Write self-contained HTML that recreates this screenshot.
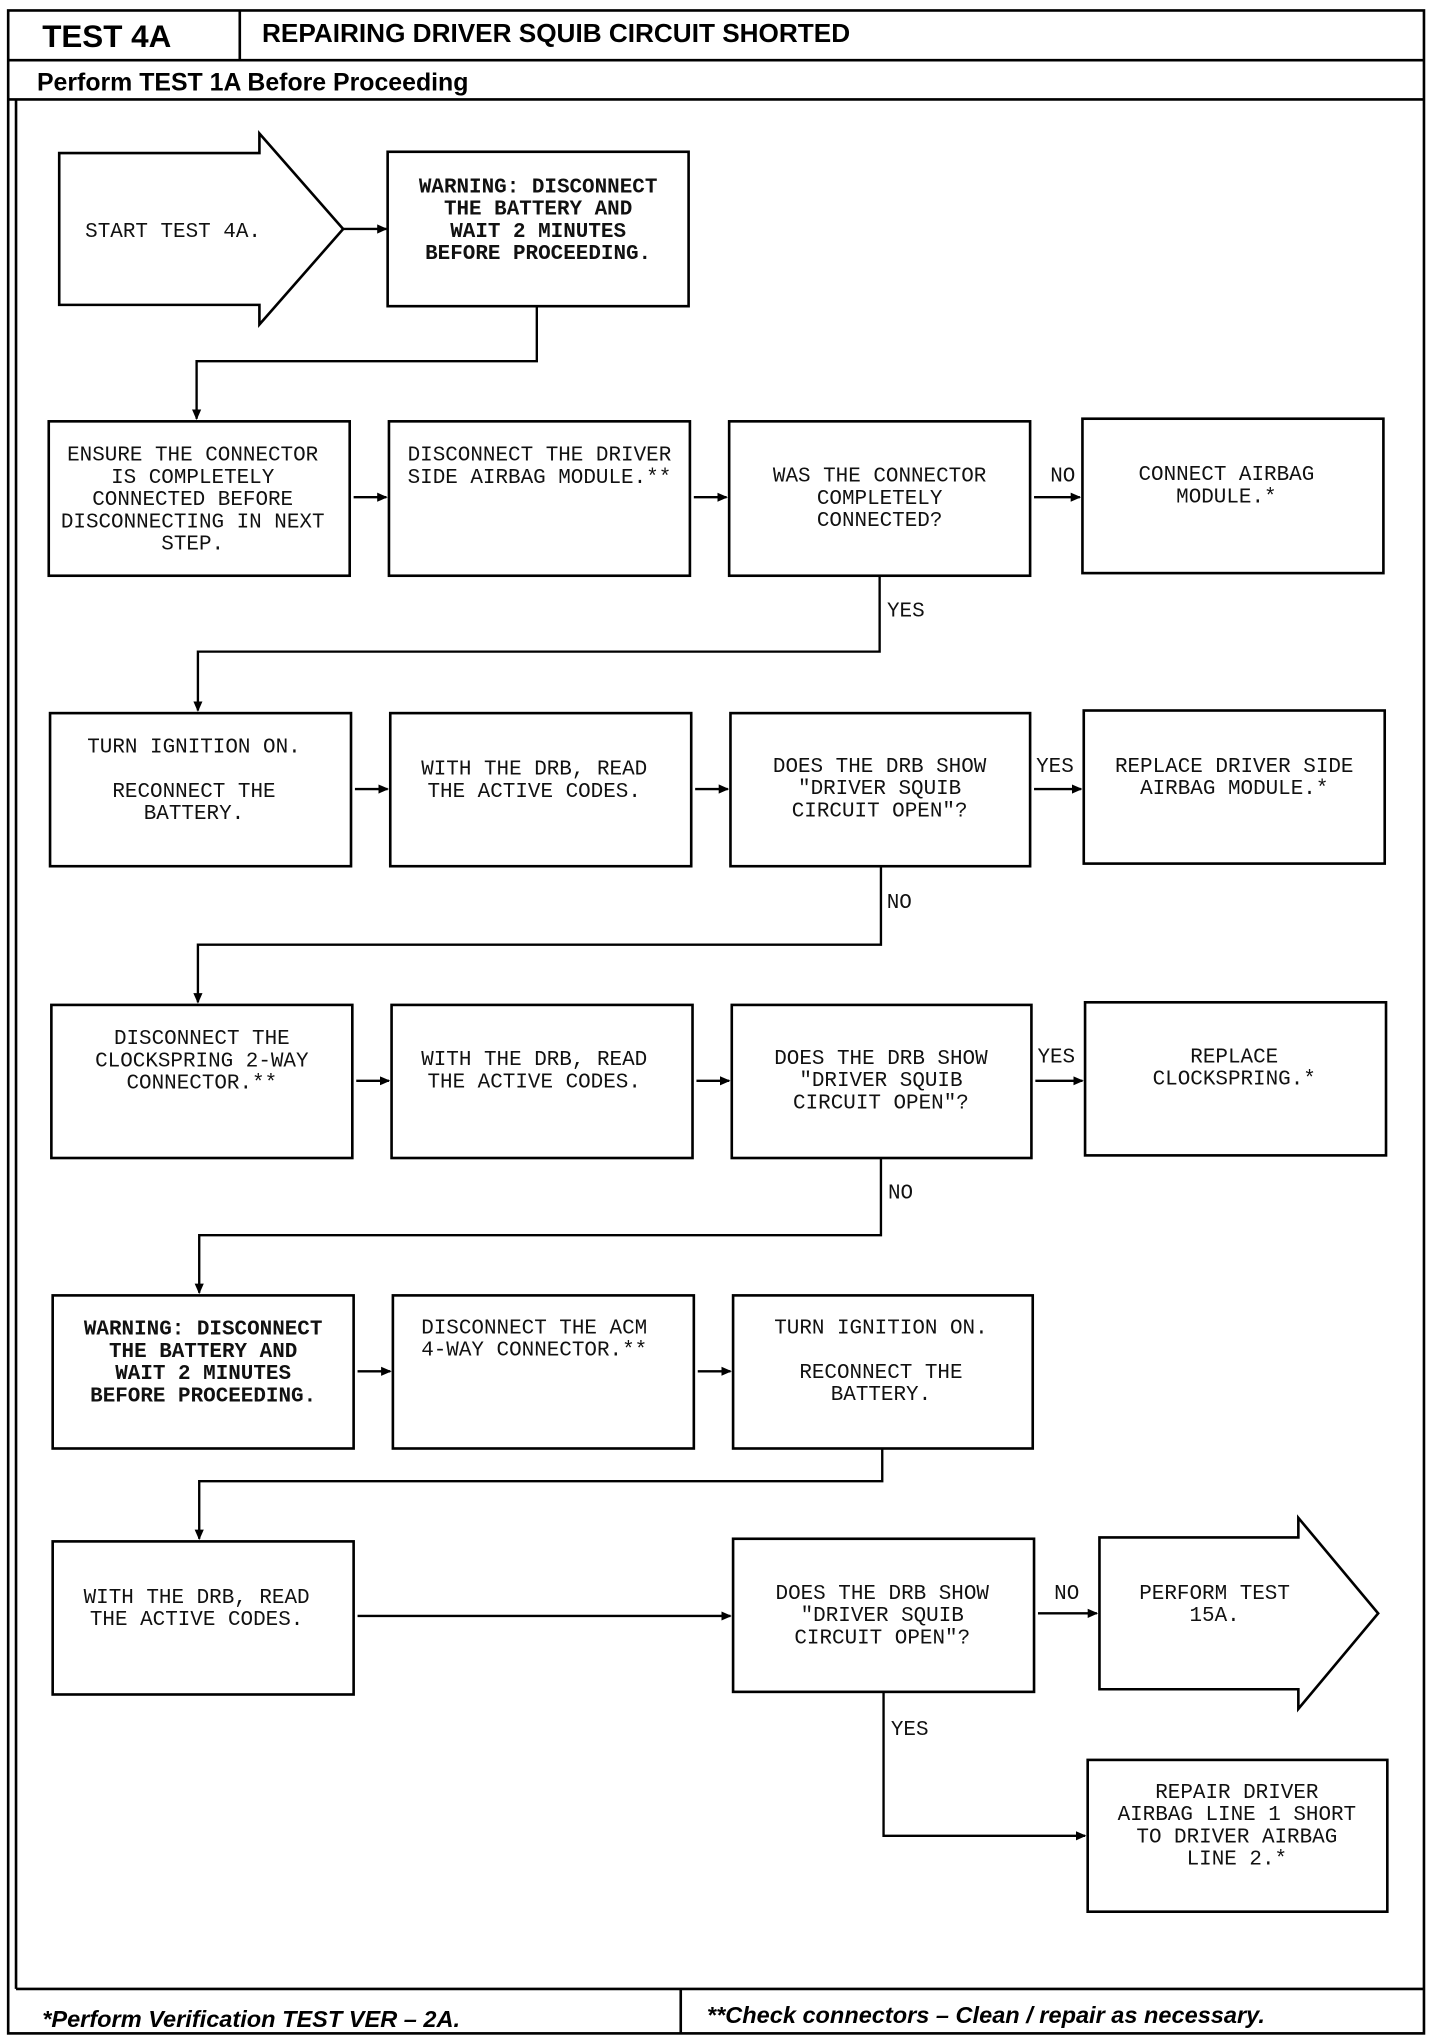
<!DOCTYPE html>
<html><head><meta charset="utf-8"><style>
html,body{margin:0;padding:0;background:#fff}
svg{display:block}
.t{font-family:"Liberation Mono",monospace;font-size:16px;fill:#111;text-anchor:middle}
.b{font-weight:bold}
.h{font-family:"Liberation Sans",sans-serif;font-weight:bold;fill:#000}
</style></head><body>
<svg width="1440" height="2036" viewBox="0 0 1100 1556" xmlns="http://www.w3.org/2000/svg">
<defs><marker id="a" markerWidth="8" markerHeight="8" refX="7" refY="4" orient="auto" markerUnits="userSpaceOnUse"><path d="M0,0.5 L8,4 L0,7.5 Z" fill="#000"/></marker></defs>
<g fill="none" stroke="#000" stroke-width="2">
<rect x="6" y="8" width="1082" height="1546"/>
<line x1="6" y1="46" x2="1088" y2="46"/>
<line x1="183" y1="8" x2="183" y2="46"/>
<line x1="6" y1="76" x2="1088" y2="76"/>
<line x1="12" y1="76" x2="12" y2="1520"/>
<line x1="12" y1="1520" x2="1088" y2="1520"/>
<line x1="520" y1="1520" x2="520" y2="1554"/>
<polygon points="45,117 198,117 198,102 262,175 198,248 198,233 45,233"/>
<rect x="296" y="116" width="230" height="118"/>
<rect x="37" y="322" width="230" height="118"/>
<rect x="297" y="322" width="230" height="118"/>
<rect x="557" y="322" width="230" height="118"/>
<rect x="827" y="320" width="230" height="118"/>
<rect x="38" y="545" width="230" height="117"/>
<rect x="298" y="545" width="230" height="117"/>
<rect x="558" y="545" width="229" height="117"/>
<rect x="828" y="543" width="230" height="117"/>
<rect x="39" y="768" width="230" height="117"/>
<rect x="299" y="768" width="230" height="117"/>
<rect x="559" y="768" width="229" height="117"/>
<rect x="829" y="766" width="230" height="117"/>
<rect x="40" y="990" width="230" height="117"/>
<rect x="300" y="990" width="230" height="117"/>
<rect x="560" y="990" width="229" height="117"/>
<rect x="40" y="1178" width="230" height="117"/>
<rect x="560" y="1176" width="230" height="117"/>
<polygon points="840,1175 992,1175 992,1160 1053,1233 992,1306 992,1291 840,1291"/>
<rect x="831" y="1345" width="229" height="116"/>
</g>
<g fill="none" stroke="#000" stroke-width="1.8" marker-end="url(#a)">
<line x1="262" y1="175" x2="295" y2="175"/>
<polyline points="410,234 410,276 150,276 150,320"/>
<line x1="270" y1="380" x2="295" y2="380"/>
<line x1="530" y1="380" x2="555" y2="380"/>
<line x1="790" y1="380" x2="825" y2="380"/>
<polyline points="672,440 672,498 151,498 151,543"/>
<line x1="271" y1="603" x2="296" y2="603"/>
<line x1="531" y1="603" x2="556" y2="603"/>
<line x1="790" y1="603" x2="826" y2="603"/>
<polyline points="673,662 673,722 151,722 151,766"/>
<line x1="272" y1="826" x2="297" y2="826"/>
<line x1="532" y1="826" x2="557" y2="826"/>
<line x1="791" y1="826" x2="827" y2="826"/>
<polyline points="673,885 673,944 152,944 152,988"/>
<line x1="273" y1="1048" x2="298" y2="1048"/>
<line x1="533" y1="1048" x2="558" y2="1048"/>
<polyline points="674,1107 674,1132 152,1132 152,1176"/>
<line x1="273" y1="1235" x2="558" y2="1235"/>
<line x1="793" y1="1233" x2="838" y2="1233"/>
<polyline points="675,1293 675,1403 829,1403"/>
</g>
<text class="h" x="32" y="36" font-size="24">TEST 4A</text>
<text class="h" x="200" y="32" font-size="20">REPAIRING DRIVER SQUIB CIRCUIT SHORTED</text>
<text class="h" x="28" y="69" font-size="19">Perform TEST 1A Before Proceeding</text>
<text class="h" x="32" y="1549" font-size="18" font-style="italic">*Perform Verification TEST VER – 2A.</text>
<text class="h" x="540" y="1546" font-size="18" font-style="italic">**Check connectors  –  Clean / repair as necessary.</text>
<g class="t">
<text x="132" y="181">START TEST 4A.</text>
<text x="411" y="147" class="b">WARNING: DISCONNECT</text><text x="411" y="164" class="b">THE BATTERY AND</text><text x="411" y="181" class="b">WAIT 2 MINUTES</text><text x="411" y="198" class="b">BEFORE PROCEEDING.</text>
<text x="147" y="352">ENSURE THE CONNECTOR</text><text x="147" y="369">IS COMPLETELY</text><text x="147" y="386">CONNECTED BEFORE</text><text x="147" y="403">DISCONNECTING IN NEXT</text><text x="147" y="420">STEP.</text>
<text x="412" y="352">DISCONNECT THE DRIVER</text><text x="412" y="369">SIDE AIRBAG MODULE.**</text>
<text x="672" y="368">WAS THE CONNECTOR</text><text x="672" y="385">COMPLETELY</text><text x="672" y="402">CONNECTED?</text>
<text x="812" y="368">NO</text>
<text x="937" y="367">CONNECT AIRBAG</text><text x="937" y="384">MODULE.*</text>
<text x="692" y="471">YES</text>
<text x="148" y="575">TURN IGNITION ON.</text><text x="148" y="609">RECONNECT THE</text><text x="148" y="626">BATTERY.</text>
<text x="408" y="592">WITH THE DRB, READ</text><text x="408" y="609">THE ACTIVE CODES.</text>
<text x="672" y="590">DOES THE DRB SHOW</text><text x="672" y="607">"DRIVER SQUIB</text><text x="672" y="624">CIRCUIT OPEN"?</text>
<text x="806" y="590">YES</text>
<text x="943" y="590">REPLACE DRIVER SIDE</text><text x="943" y="607">AIRBAG MODULE.*</text>
<text x="687" y="694">NO</text>
<text x="154" y="798">DISCONNECT THE</text><text x="154" y="815">CLOCKSPRING 2-WAY</text><text x="154" y="832">CONNECTOR.**</text>
<text x="408" y="814">WITH THE DRB, READ</text><text x="408" y="831">THE ACTIVE CODES.</text>
<text x="673" y="813">DOES THE DRB SHOW</text><text x="673" y="830">"DRIVER SQUIB</text><text x="673" y="847">CIRCUIT OPEN"?</text>
<text x="807" y="812">YES</text>
<text x="943" y="812">REPLACE</text><text x="943" y="829">CLOCKSPRING.*</text>
<text x="688" y="916">NO</text>
<text x="155" y="1020" class="b">WARNING: DISCONNECT</text><text x="155" y="1037" class="b">THE BATTERY AND</text><text x="155" y="1054" class="b">WAIT 2 MINUTES</text><text x="155" y="1071" class="b">BEFORE PROCEEDING.</text>
<text x="408" y="1019">DISCONNECT THE ACM</text><text x="408" y="1036">4-WAY CONNECTOR.**</text>
<text x="673" y="1019">TURN IGNITION ON.</text><text x="673" y="1053">RECONNECT THE</text><text x="673" y="1070">BATTERY.</text>
<text x="150" y="1225">WITH THE DRB, READ</text><text x="150" y="1242">THE ACTIVE CODES.</text>
<text x="674" y="1222">DOES THE DRB SHOW</text><text x="674" y="1239">"DRIVER SQUIB</text><text x="674" y="1256">CIRCUIT OPEN"?</text>
<text x="815" y="1222">NO</text>
<text x="928" y="1222">PERFORM TEST</text><text x="928" y="1239">15A.</text>
<text x="695" y="1326">YES</text>
<text x="945" y="1374">REPAIR DRIVER</text><text x="945" y="1391">AIRBAG LINE 1 SHORT</text><text x="945" y="1408">TO DRIVER AIRBAG</text><text x="945" y="1425">LINE 2.*</text>
</g>
</svg>
</body></html>
